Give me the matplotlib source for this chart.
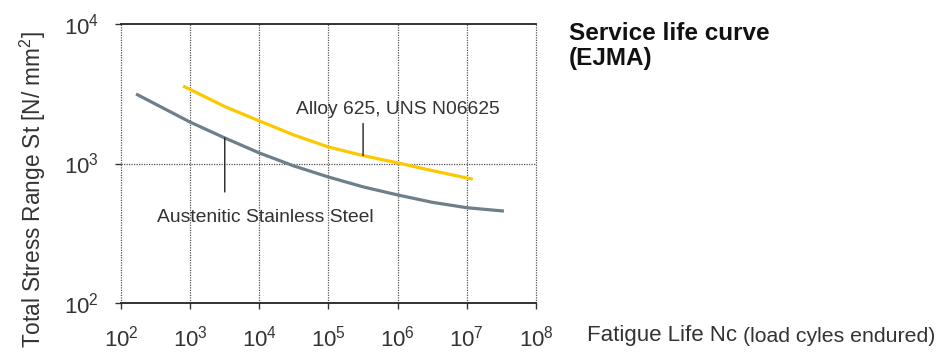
import numpy as np
from matplotlib import pyplot as plt

# service life data (cycles, N/mm2)
steel_cycles = [165, 1e3, 10**3.5, 1e4, 10**4.5, 1e5, 10**5.5, 1e6, 10**6.5, 1e7, 3.44e7]
steel_stress = [3150, 1980, 1525, 1190, 960, 800, 680, 595, 527, 482, 456]
alloy_cycles = [790, 10**3.5, 1e4, 10**4.5, 1e5, 10**5.5, 1e6, 10**6.5, 1e7, 1.22e7]
alloy_stress = [3595, 2560, 2020, 1600, 1313, 1140, 1010, 890, 787, 774]
x_ticks = [1e2, 1e3, 1e4, 1e5, 1e6, 1e7, 1e8]
y_ticks = [1e2, 1e3, 1e4]

plt.rcParams['font.family'] = ['Liberation Sans', 'DejaVu Sans']
plt.rcParams['mathtext.default'] = 'regular'
txt = '#333333'

fig = plt.figure(figsize=(9.52, 3.58), dpi=100)
ax = fig.add_axes([121/952, 1-303/358, (536-121)/952, (303-24)/358])
ax.set_xscale('log')
ax.set_yscale('log')
ax.set_xlim(1e2, 1e8)
ax.set_ylim(1e2, 1e4)

ax.plot(steel_cycles, steel_stress, color='#6e7f8a', lw=2.3, solid_capstyle='butt', zorder=3)
ax.plot(alloy_cycles, alloy_stress, color='#fcc800', lw=2.3, solid_capstyle='butt', zorder=3)

# grid: dotted verticals at each decade, dotted 10^3 horizontal
for x in x_ticks:
    ax.axvline(x, color='#555555', lw=0.9, ls=(0, (1, 1)), zorder=1, clip_on=False)
ax.axhline(1e3, color='#555555', lw=0.9, ls=(0, (1, 1)), zorder=1)

for s in ['left', 'right']:
    ax.spines[s].set_visible(False)
for s in ['top', 'bottom']:
    ax.spines[s].set_linewidth(1.3)
    ax.spines[s].set_color('#222222')

ax.set_xticks(x_ticks)
ax.set_yticks(y_ticks)
ax.minorticks_off()
ax.set_xticklabels(['$10^{%d}$' % int(np.log10(v)) for v in x_ticks])
ax.set_yticklabels(['$10^{%d}$' % int(np.log10(v)) for v in y_ticks])
ax.tick_params(axis='x', length=4, width=1, direction='out', pad=12, labelsize=16, colors=txt)
ax.tick_params(axis='y', length=4, width=1, direction='out', pad=12, labelsize=16, colors=txt)

# leader lines and labels
a = steel_cycles.index(10**3.5)
ax.annotate('', xy=(steel_cycles[a], steel_stress[a]), xytext=(0, -54), textcoords='offset pixels',
            arrowprops=dict(arrowstyle='-', color='#222222', lw=1, shrinkA=0, shrinkB=0))
ax.annotate('Austenitic Stainless Steel', xy=(steel_cycles[a], steel_stress[a]), xytext=(41, -80),
            textcoords='offset pixels', ha='center', va='center', fontsize=13.9, color=txt)
b = alloy_cycles.index(10**5.5)
ax.annotate('', xy=(alloy_cycles[b], alloy_stress[b]), xytext=(0, 32), textcoords='offset pixels',
            arrowprops=dict(arrowstyle='-', color='#222222', lw=1, shrinkA=0, shrinkB=0))
ax.annotate('Alloy 625, UNS N06625', xy=(alloy_cycles[b], alloy_stress[b]), xytext=(35, 46),
            textcoords='offset pixels', ha='center', va='center', fontsize=13.9, color=txt)

fig.text(33/952, 1-190/358, 'Total Stress Range St [N/ mm$^2$]', rotation=90, ha='center', va='center',
         fontsize=16.3, color=txt)
fig.text(587/952, 1-336/358, 'Fatigue Life Nc', ha='left', va='center', fontsize=16, color=txt)
fig.text(743/952, 1-337/358, '(load cyles endured)', ha='left', va='center', fontsize=15.3, color=txt)
fig.text(569/952, 1-34/358, 'Service life curve', ha='left', va='center', fontsize=17.5,
         fontweight='bold', color='#111111')
fig.text(569/952, 1-59/358, '(EJMA)', ha='left', va='center', fontsize=17.5,
         fontweight='bold', color='#111111')

fig.savefig('out.png', dpi=100)
